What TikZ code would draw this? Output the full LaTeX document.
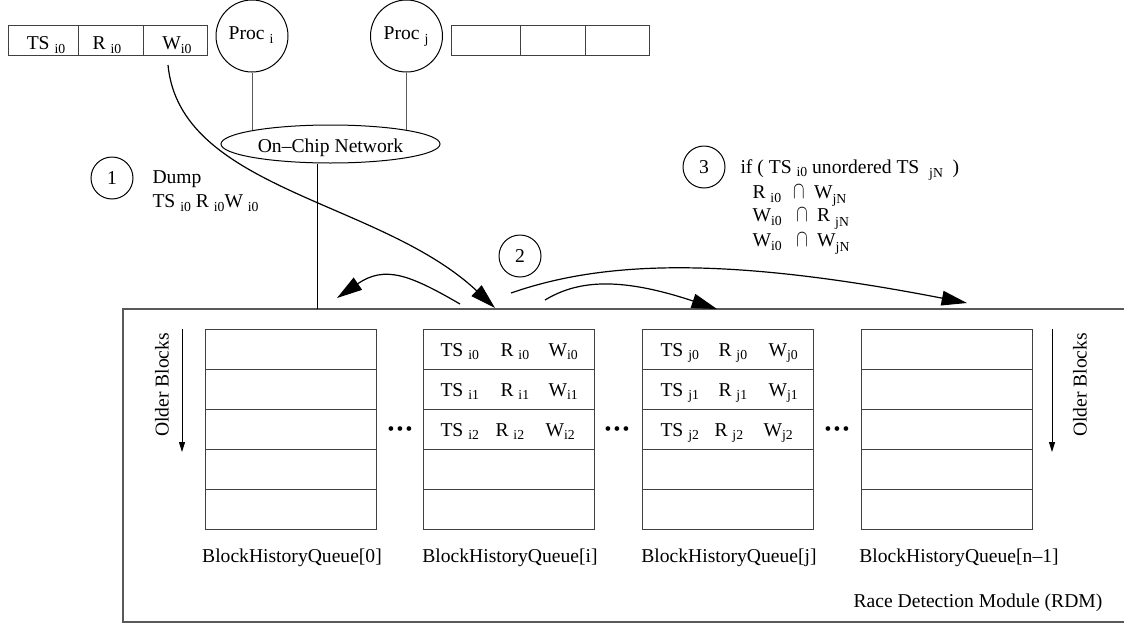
\documentclass[tikz,border=0pt]{standalone}
\usepackage{fontspec}
\setmainfont{Liberation Serif}
\usetikzlibrary{arrows.meta,shapes.geometric}
\newcommand\sbs[2][2.5pt]{\raisebox{-#1}{\fontsize{10.3}{11}\selectfont #2}}
\newcommand\mycap{\scalebox{0.9}[1.25]{$\cap$}}
\begin{document}
\begin{tikzpicture}[x=0.75pt,y=-0.75pt,
  font=\fontsize{14.7}{17}\selectfont,
  line width=0.75pt,
  cell/.style={draw=black!75, minimum height=22.5pt, inner sep=0pt},
  qrow/.style={draw=black!75, minimum width=128.25pt, minimum height=30pt, inner sep=0pt},
  numc/.style={circle, draw, minimum size=31.5pt, inner sep=0pt},
  procc/.style={circle, draw, minimum size=54pt, inner sep=0pt},
  bigarrow/.style={-{Triangle[length=19pt,width=11pt]}, line width=0.9pt},
  smallarrow/.style={-{Triangle[length=7.5pt,width=4.5pt]}, line width=0.75pt},
  txt/.style={inner sep=0pt, anchor=base west},
  ctxt/.style={inner sep=0pt, anchor=base},
  link/.style={draw=black!65, line width=0.75pt}
]
\useasboundingbox (0,0) rectangle (1124,625);

% ---------- registers ----------
\node[cell, minimum width=52.5pt]  (ra) at (43,40) {};
\node[cell, minimum width=48.75pt] (rb) at (110.5,40) {};
\node[cell, minimum width=48pt]    (rc) at (175,40) {};
\node[ctxt] (ta) at (46,49) {TS\ \sbs[3.5pt]{i0}};
\node[ctxt] (tb) at (107,49) {R\ \sbs[3.5pt]{i0}};
\node[ctxt] (tc) at (177,49) {W\sbs[3.5pt]{i0}};

\node[cell, minimum width=51.75pt] (sa) at (485.5,40) {};
\node[cell, minimum width=48.75pt] (sb) at (552.5,40) {};
\node[cell, minimum width=48pt]    (sc) at (617,40) {};

% ---------- processors and network ----------
\node[procc] (pi) at (252,36) {};
\node[procc] (pj) at (406.5,36) {};
\node[ctxt] (tpi) at (251,39) {Proc\ \sbs[3.5pt]{i}};
\node[ctxt] (tpj) at (406,39) {Proc\ \sbs[3.5pt]{j}};
\node[ellipse, draw, minimum width=164.25pt, minimum height=28.5pt, inner sep=0pt] (net) at (330.5,144) {};
\node[ctxt] (tnet) at (330.5,152) {On–Chip Network};
\draw[link] (pi.south) -- (pi.south |- net.170);
\draw[link] (pj.south) -- (pj.south |- net.10);

% ---------- RDM outline ----------
\coordinate (rtl) at (123,309);
\coordinate (rbl) at (123,622);
\coordinate (rtr) at (1124,309);
\coordinate (rbr) at (1124,622);
\draw[draw=black!65, line width=1pt] (rtr) -- (rtl) -- (rbl) -- (rbr);
\coordinate (nd) at (317,309);
\draw[draw=black, line width=0.75pt] (net.south -| nd) -- (nd);

% ---------- queues ----------
\foreach \q/\cx in {0/290.5, i/508.5, j/727.5, n/946.5} {
  \foreach \r in {0,...,4} {
    \node[qrow] (q\q r\r) at (\cx,{349+40*\r}) {};
  }
}
% queue i contents
\node[txt] at (440,356.5) {TS\ \sbs{i0}};
\node[txt] at (500,356.5) {R\ \sbs{i0}};
\node[txt] at (548,356.5) {W\sbs{i0}};
\node[txt] at (440,396.5) {TS\ \sbs{i1}};
\node[txt] at (500,396.5) {R\ \sbs{i1}};
\node[txt] at (548,396.5) {W\sbs{i1}};
\node[txt] at (440,436.5) {TS\ \sbs{i2}};
\node[txt] at (495,436.5) {R\ \sbs{i2}};
\node[txt] at (545,436.5) {W\sbs{i2}};
% queue j contents
\node[txt] at (660,356.5) {TS\ \sbs{j0}};
\node[txt] at (718,356.5) {R\ \sbs{j0}};
\node[txt] at (768,356.5) {W\sbs{j0}};
\node[txt] at (660,396.5) {TS\ \sbs{j1}};
\node[txt] at (718,396.5) {R\ \sbs{j1}};
\node[txt] at (768,396.5) {W\sbs{j1}};
\node[txt] at (660,436.5) {TS\ \sbs{j2}};
\node[txt] at (714,436.5) {R\ \sbs{j2}};
\node[txt] at (763,436.5) {W\sbs{j2}};

% dots
\node[inner sep=0pt] (dots1) at (400,431) {\textbullet\hspace{1.6pt}\textbullet\hspace{1.6pt}\textbullet};
\node[inner sep=0pt] (dots2) at (617,431) {\textbullet\hspace{1.6pt}\textbullet\hspace{1.6pt}\textbullet};
\node[inner sep=0pt] (dots3) at (837,431) {\textbullet\hspace{1.6pt}\textbullet\hspace{1.6pt}\textbullet};

% labels
\node[ctxt] at (292,562) {BlockHistoryQueue[0]};
\node[ctxt] at (510,562) {BlockHistoryQueue[i]};
\node[ctxt] at (729,562) {BlockHistoryQueue[j]};
\node[ctxt] at (959,562) {BlockHistoryQueue[n–1]};
\node[ctxt] at (978,607) {Race Detection Module (RDM)};

% older blocks
\node[rotate=90, inner sep=0pt] (obl) at (162,385) {Older Blocks};
\node[rotate=90, inner sep=0pt] (obr) at (1080,385) {Older Blocks};
\coordinate (ob1) at (182,329);
\coordinate (ob2) at (182,452);
\coordinate (ob3) at (1052,329);
\coordinate (ob4) at (1052,452);
\draw[smallarrow] (ob1) -- (ob2);
\draw[smallarrow] (ob3) -- (ob4);

% ---------- step circles and texts ----------
\node[numc] (n1) at (112,178) {1};
\node[numc] (n2) at (520,256) {2};
\node[numc] (n3) at (704,167) {3};

\node[txt] at (152,183) {Dump};
\node[txt] at (152,207) {TS\ \sbs[3.5pt]{i0}\ R\ \sbs[3.5pt]{i0}W\ \sbs[3.5pt]{i0}};

\node[txt] at (740,173) {if ( TS\ \sbs[2.5pt]{i0} unordered TS\ \ \sbs[3.5pt]{jN}\ \ )};
\node[txt] at (752,198) {R\ \sbs[3pt]{i0}\hspace{9pt}\mycap\hspace{7pt}W\sbs[4pt]{jN}};
\node[txt] at (752,221.5) {W\sbs[3pt]{i0}\hspace{11pt}\mycap\hspace{7pt}R\ \sbs[4pt]{jN}};
\node[txt] at (752,246) {W\sbs[3pt]{i0}\hspace{11pt}\mycap\hspace{7pt}W\sbs[4pt]{jN}};

% ---------- arrows ----------
\coordinate (d0) at (168,65);
\coordinate (d1) at (495,308);
\draw[bigarrow] (d0) .. controls (180,190) and (380,200) .. (d1);

\coordinate (a0) at (460,304);
\coordinate (a1) at (337,298);
\draw[bigarrow] (a0) .. controls (410,275) and (385,265) .. (a1);

\coordinate (c0) at (545,300);
\coordinate (c1) at (717,309);
\draw[bigarrow] (c0) .. controls (575,282) and (615,275) .. (c1);

\coordinate (e0) at (511,293);
\coordinate (e1) at (967,303);
\draw[bigarrow] (e0) .. controls (600,262) and (720,255) .. (e1);
\end{tikzpicture}
\end{document}
